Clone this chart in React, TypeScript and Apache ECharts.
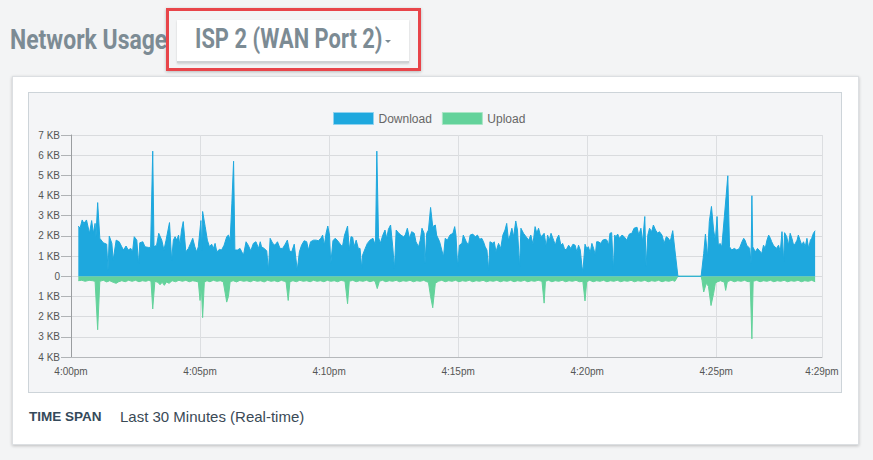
import React, { useEffect, useRef } from "react";
import * as echarts from "echarts";

// seconds after 4:00pm
const downloadTimes = [
  17, 21, 26, 30, 36, 43, 48, 52, 56, 58, 62, 67, 75, 83, 86, 89, 95, 98, 105, 112,
  118, 122, 128, 133, 139, 143, 147, 153, 157, 160, 167, 172, 180, 185, 190, 193, 199, 204, 211, 216,
  221, 229, 234, 238, 242, 246, 250, 253, 257, 261, 267, 273, 278, 283, 288, 292, 296, 302, 304, 306,
  312, 317, 322, 327, 331, 335, 339, 345, 350, 356, 362, 366, 370, 374, 378, 381, 387, 393, 397, 401,
  407, 412, 418, 424, 430, 436, 440, 443, 449, 455, 459, 463, 469, 474, 480, 486, 492, 498, 503, 508,
  513, 519, 526, 531, 536, 542, 548, 552, 557, 564, 570, 575, 581, 585, 589, 593, 597, 601, 604, 609,
  614, 619, 626, 631, 636, 640, 643, 647, 651, 655, 658, 663, 668, 672, 676, 678, 684, 689, 695, 702,
  705, 708, 711, 715, 719, 725, 730, 734, 738, 743, 748, 752, 756, 761, 767, 773, 777, 782, 787, 792,
  798, 802, 808, 812, 816, 821, 823, 827, 831, 836, 841, 847, 850, 857, 862, 866, 870, 875, 881, 888,
  892, 895, 899, 903, 909, 912, 919, 924, 928, 934, 940, 945, 950, 955, 959, 963, 967, 971, 974, 981,
  984, 988, 994, 999, 1004, 1009, 1013, 1017, 1021, 1025, 1029, 1034, 1038, 1043, 1046, 1052, 1058, 1064, 1069, 1074,
  1079, 1083, 1087, 1092, 1097, 1100, 1105, 1108, 1112, 1116, 1122, 1126, 1130, 1134, 1139, 1143, 1147, 1151, 1157, 1162,
  1167, 1172, 1176, 1180, 1184, 1188, 1190, 1195, 1199, 1203, 1207, 1211, 1215, 1219, 1222, 1226, 1232, 1236, 1242, 1246,
  1250, 1253, 1257, 1261, 1264, 1267, 1271, 1275, 1281, 1286, 1292, 1298, 1304, 1309, 1316, 1320, 1325, 1329, 1334, 1337,
  1341, 1345, 1350, 1354, 1359, 1364, 1368, 1374, 1379, 1384, 1389, 1393, 1399, 1404, 1411, 1465, 1471, 1475, 1480, 1484,
  1489, 1494, 1498, 1502, 1505, 1509, 1513, 1519, 1523, 1527, 1531, 1536, 1542, 1548, 1554, 1560, 1564, 1567, 1571, 1578,
  1581, 1583, 1585, 1591, 1596, 1601, 1606, 1610, 1614, 1618, 1622, 1626, 1629, 1633, 1640, 1645, 1649, 1653, 1657, 1659,
  1664, 1668, 1672, 1676, 1680, 1684, 1688, 1691, 1695, 1699, 1703, 1707, 1711, 1715, 1719, 1722, 1726, 1730,
];

// KB
const downloadValues = [
  2.49, 2.38, 2.79, 2.62, 2.79, 2.13, 2.76, 2.13, 2.62, 1.96, 3.65, 1.88, 1.66, 1.59, 0.3, 1.99, 1.63, 0.8, 1.79, 1.71,
  1.46, 1.3, 1.5, 1.3, 1.38, 1.21, 1.96, 1.79, 0.63, 1.66, 1.71, 1.46, 1.43, 1.43, 6.2, 1.46, 1.54, 2.13, 1.79, 1.3,
  1.79, 2.66, 0.8, 1.79, 1.96, 1.79, 2.04, 1.54, 2.29, 2.71, 1.21, 1.38, 1.63, 1.88, 1.46, 1.21, 1.46, 2.76, 1.3, 3.21,
  2.46, 1.79, 1.46, 1.59, 1.38, 1.63, 1.21, 1.33, 1.3, 1.54, 1.96, 2.04, 1.79, 3.62, 5.7, 1.3, 1.3, 1.38, 1.21, 1.05,
  1.71, 1.54, 1.26, 1.63, 1.71, 1.38, 1.71, 1.46, 1.38, 1.26, 0.3, 1.88, 1.63, 1.54, 1.71, 1.38, 1.38, 1.59, 1.79, 1.26,
  1.21, 1.59, 0.3, 1.21, 1.54, 1.76, 1.71, 1.3, 1.71, 1.79, 1.79, 1.76, 1.88, 2.04, 1.54, 2.13, 2.49, 2.04, 0.63, 1.76,
  1.88, 1.79, 1.59, 1.46, 2.04, 2.29, 2.49, 1.3, 1.96, 1.93, 1.46, 1.79, 1.38, 1.38, 0.38, 1.05, 1.38, 1.63, 1.79, 1.88,
  1.71, 1.63, 6.2, 1.93, 1.63, 2.04, 2.29, 1.88, 2.33, 2.54, 1.46, 0.38, 2.29, 2.16, 2.04, 1.96, 2.04, 2.38, 1.88, 2.21,
  2.13, 1.71, 1.46, 1.79, 2.38, 2.13, 0.63, 2.13, 2.29, 3.41, 2.46, 2.54, 2.04, 1.71, 1.3, 0.96, 1.88, 1.79, 2.04, 2.13,
  2.46, 2.04, 0.47, 1.54, 1.63, 2.04, 1.71, 1.54, 2.04, 2.09, 1.96, 2.04, 1.83, 1.88, 1.71, 1.46, 1.3, 0.3, 1.71, 1.63,
  1.71, 1.21, 1.63, 1.38, 2.04, 2.29, 2.62, 1.79, 2.04, 2.38, 1.96, 2.74, 2.29, 0.47, 2.38, 2.13, 1.96, 1.79, 2.04, 1.59,
  2.46, 2.13, 2.38, 1.96, 2.04, 2.13, 1.46, 2.04, 1.79, 2.13, 1.79, 1.54, 1.88, 2.04, 1.54, 1.63, 1.38, 1.3, 1.54, 1.38,
  1.59, 1.54, 1.21, 1.54, 1.3, 0.47, 0.22, 1.59, 1.38, 1.46, 1.16, 1.63, 1.38, 1.05, 1.71, 1.71, 1.63, 1.79, 1.83, 1.79,
  1.54, 2.13, 2.16, 0.3, 2.04, 1.96, 2.09, 1.88, 2.04, 1.96, 1.79, 2.09, 2.13, 2.38, 2.43, 2.04, 2.38, 1.71, 2.96, 0.47,
  2.04, 2.38, 2.21, 2.54, 2.29, 2.13, 2.21, 2.04, 1.63, 1.96, 1.88, 1.71, 2.26, 1.3, 0, 0, 1.13, 2.09, 0.96, 2.71,
  3.46, 2.29, 1.79, 2.96, 1.54, 1.63, 1.46, 2.96, 3.95, 4.98, 1.46, 1.3, 1.38, 1.3, 1.38, 1.71, 1.88, 1.79, 1.54, 1.38,
  0.63, 3.99, 1.46, 1.21, 1.38, 1.26, 1.13, 1.54, 1.38, 1.79, 2.04, 1.88, 1.71, 1.54, 1.38, 1.54, 1.21, 2.21, 0.71, 2.16,
  1.96, 1.54, 2.13, 1.88, 1.54, 1.63, 1.79, 2.04, 1.79, 1.54, 1.71, 1.46, 1.88, 1.38, 1.79, 1.88, 2.13, 2.26,
];

const uploadTimes = [
  17, 25, 33, 42, 50, 56, 62, 67, 75, 83, 90, 98, 105, 110, 118, 126, 134, 142, 150, 158,
  166, 174, 181, 186, 190, 195, 202, 207, 212, 217, 222, 228, 235, 243, 251, 259, 267, 275, 283, 290,
  296, 300, 303, 306, 310, 316, 323, 331, 339, 347, 354, 362, 366, 370, 377, 385, 393, 401, 409, 417,
  425, 433, 441, 449, 457, 465, 473, 481, 489, 496, 500, 505, 509, 516, 524, 532, 540, 548, 556, 564,
  572, 580, 588, 596, 604, 612, 620, 628, 637, 643, 647, 655, 663, 671, 679, 687, 695, 703, 707, 712,
  717, 724, 732, 740, 748, 756, 764, 772, 780, 788, 796, 804, 812, 820, 827, 831, 836, 841, 847, 854,
  862, 870, 878, 886, 894, 902, 910, 918, 926, 934, 942, 950, 958, 966, 974, 982, 990, 998, 1006, 1014,
  1022, 1030, 1038, 1046, 1054, 1062, 1070, 1078, 1086, 1095, 1100, 1103, 1110, 1118, 1126, 1134, 1142, 1150, 1158, 1166,
  1174, 1182, 1190, 1195, 1199, 1206, 1214, 1222, 1230, 1238, 1246, 1254, 1262, 1270, 1278, 1286, 1294, 1302, 1310, 1318,
  1326, 1334, 1342, 1350, 1358, 1366, 1374, 1382, 1390, 1398, 1404, 1411, 1465, 1467, 1471, 1477, 1482, 1488, 1494, 1498,
  1502, 1510, 1516, 1519, 1522, 1526, 1534, 1542, 1550, 1558, 1566, 1574, 1579, 1583, 1586, 1594, 1602, 1610, 1618, 1626,
  1634, 1642, 1650, 1658, 1666, 1674, 1682, 1690, 1698, 1706, 1714, 1722, 1730,
];

const uploadValues = [
  -0.22, -0.2, -0.25, -0.2, -0.22, -0.25, -2.65, -0.25, -0.2, -0.28, -0.22, -0.3, -0.35, -0.28, -0.22, -0.27, -0.2, -0.25, -0.2, -0.27,
  -0.22, -0.25, -0.2, -0.25, -1.62, -0.25, -0.3, -0.42, -0.3, -0.45, -0.28, -0.35, -0.22, -0.27, -0.2, -0.25, -0.2, -0.27, -0.22, -0.25,
  -0.28, -1.2, -0.5, -2.05, -0.3, -0.22, -0.27, -0.2, -0.25, -0.22, -0.27, -1.28, -1.0, -0.27, -0.22, -0.28, -0.2, -0.25, -0.22, -0.27,
  -0.2, -0.25, -0.22, -0.28, -0.2, -0.25, -0.22, -0.27, -0.2, -0.25, -0.28, -1.2, -0.27, -0.22, -0.27, -0.2, -0.25, -0.22, -0.27, -0.2,
  -0.25, -0.22, -0.27, -0.2, -0.25, -0.22, -0.27, -0.2, -0.25, -1.36, -0.25, -0.2, -0.27, -0.22, -0.25, -0.2, -0.27, -0.22, -0.25, -0.61,
  -0.25, -0.2, -0.27, -0.22, -0.25, -0.2, -0.27, -0.22, -0.25, -0.2, -0.27, -0.22, -0.25, -0.2, -0.27, -0.3, -1.0, -1.56, -0.35, -0.25,
  -0.2, -0.27, -0.22, -0.25, -0.2, -0.27, -0.22, -0.25, -0.2, -0.27, -0.22, -0.25, -0.2, -0.27, -0.22, -0.25, -0.2, -0.27, -0.22, -0.25,
  -0.2, -0.27, -0.22, -0.25, -0.2, -0.27, -0.22, -0.25, -0.2, -0.25, -1.33, -0.25, -0.2, -0.27, -0.22, -0.25, -0.2, -0.27, -0.22, -0.25,
  -0.2, -0.27, -0.25, -1.22, -0.27, -0.2, -0.27, -0.22, -0.25, -0.2, -0.27, -0.22, -0.25, -0.2, -0.27, -0.22, -0.25, -0.2, -0.27, -0.22,
  -0.25, -0.2, -0.27, -0.22, -0.25, -0.2, -0.27, -0.22, -0.25, -0.2, -0.25, 0, 0, -0.2, -0.78, -0.35, -0.5, -1.45, -0.85, -0.35,
  -0.28, -0.22, -0.27, -0.3, -0.7, -0.27, -0.2, -0.27, -0.22, -0.25, -0.2, -0.27, -0.25, -3.1, -0.25, -0.2, -0.27, -0.22, -0.25, -0.2,
  -0.27, -0.22, -0.25, -0.2, -0.27, -0.22, -0.25, -0.2, -0.27, -0.22, -0.25, -0.2, -0.27,
];

const seriesNames = ["Download", "Upload"];
const xTickValues = [0, 300, 600, 900, 1200, 1500, 1746];
const xTickLabels = ["4:00pm", "4:05pm", "4:10pm", "4:15pm", "4:20pm", "4:25pm", "4:29pm"];
const yTickValues = [-4, -3, -2, -1, 0, 1, 2, 3, 4, 5, 6, 7];
const yTickLabels = ["4 KB", "3 KB", "2 KB", "1 KB", "0", "1 KB", "2 KB", "3 KB", "4 KB", "5 KB", "6 KB", "7 KB"];

const BLUE = "#1ea8de";
const GREEN = "#63d29b";
const CHART_FONT = "'Liberation Sans', Arial, sans-serif";

function Chart() {
  const ref = useRef<HTMLDivElement>(null);
  useEffect(() => {
    if (!ref.current) return;
    const chart = echarts.init(ref.current, null, { renderer: "svg" });
    const dl = downloadTimes.map((t, i) => [t, downloadValues[i]]);
    const ul = uploadTimes.map((t, i) => [t, uploadValues[i]]);
    chart.setOption({
      animation: false,
      backgroundColor: "transparent",
      textStyle: { fontFamily: CHART_FONT },
      legend: {
        left: 299,
        top: 14,
        icon: "rect",
        itemWidth: 40,
        itemHeight: 12,
        itemGap: 10,
        textStyle: { fontSize: 12, color: "#666", fontFamily: CHART_FONT },
        data: [
          { name: seriesNames[0], itemStyle: { color: BLUE, borderColor: "#8fd2ef", borderWidth: 1 } },
          { name: seriesNames[1], itemStyle: { color: GREEN, borderColor: "#a9e6c6", borderWidth: 1 } },
        ],
      },
      grid: {
        left: 42,
        top: 42,
        right: 19,
        bottom: 35,
        containLabel: false,
        outerBoundsMode: "none",
      },
      xAxis: {
        type: "value",
        min: 0,
        max: 1746,
        interval: 300,
        axisLine: { show: true, onZero: false, lineStyle: { color: "#b5b8bb", width: 1 } },
        axisTick: { show: false },
        splitLine: { show: true, lineStyle: { color: "#dcdee1", width: 1 } },
        axisLabel: {
          color: "#555",
          fontSize: 10,
          margin: 9,
          showMaxLabel: true,
          fontFamily: CHART_FONT,
          formatter: (v: number) => {
            const i = xTickValues.indexOf(Math.round(v));
            return i >= 0 ? xTickLabels[i] : "";
          },
        },
      },
      yAxis: {
        type: "value",
        min: -4,
        max: 7,
        interval: 1,
        axisLine: { show: true, lineStyle: { color: "#9a9da0", width: 1 } },
        axisTick: { show: true, length: 10, lineStyle: { color: "#b0b3b6" } },
        splitLine: { show: true, lineStyle: { color: "#d9dbde", width: 1 } },
        axisLabel: {
          color: "#555",
          fontSize: 10,
          margin: 11,
          fontFamily: CHART_FONT,
          formatter: (v: number) => {
            const i = yTickValues.indexOf(Math.round(v));
            return i >= 0 ? yTickLabels[i] : "";
          },
        },
      },
      series: [
        {
          name: seriesNames[0],
          type: "line",
          data: dl,
          showSymbol: false,
          symbol: "none",
          lineStyle: { color: BLUE, width: 1 },
          itemStyle: { color: BLUE },
          areaStyle: { color: BLUE, opacity: 1 },
          z: 3,
        },
        {
          name: seriesNames[1],
          type: "line",
          data: ul,
          showSymbol: false,
          symbol: "none",
          lineStyle: { color: GREEN, width: 1 },
          itemStyle: { color: GREEN },
          areaStyle: { color: GREEN, opacity: 1 },
          z: 2,
        },
      ],
    });
    return () => chart.dispose();
  }, []);
  return <div ref={ref} style={{ width: 812, height: 299 }} />;
}

export default function App() {
  const headColor = "#7c8b94";
  return (
    <div
      style={{
        position: "absolute",
        left: 0,
        top: 0,
        width: 873,
        height: 460,
        background: "#f3f4f5",
        overflow: "hidden",
        fontFamily: "'Liberation Sans', Arial, sans-serif",
      }}
    >
      <div
        style={{
          position: "absolute",
          left: 10,
          top: 27,
          fontFamily: "Roboto, sans-serif",
          fontWeight: 700,
          fontSize: 27,
          lineHeight: "27px",
          color: headColor,
          whiteSpace: "nowrap",
          transform: "scaleX(0.85)",
          transformOrigin: "left top",
        }}
      >
        Network Usage
      </div>
      <div
        style={{
          position: "absolute",
          left: 166,
          top: 8,
          width: 255,
          height: 63,
          boxSizing: "border-box",
          border: "3px solid #e8454a",
          boxShadow: "0 1px 3px rgba(0,0,0,0.25)",
        }}
      />
      <div
        style={{
          position: "absolute",
          left: 177,
          top: 20,
          width: 232,
          height: 43,
          background: "#ffffff",
          borderBottom: "2px solid #cfd2d4",
          boxShadow: "0 1px 2px rgba(0,0,0,0.15)",
          boxSizing: "border-box",
        }}
      />
      <div
        style={{
          position: "absolute",
          left: 195,
          top: 26,
          fontFamily: "Roboto, sans-serif",
          fontWeight: 700,
          fontSize: 27,
          lineHeight: "27px",
          color: headColor,
          whiteSpace: "nowrap",
          transform: "scaleX(0.81)",
          transformOrigin: "left top",
        }}
      >
        ISP 2 (WAN Port 2)
      </div>
      <div
        style={{
          position: "absolute",
          left: 385,
          top: 40,
          width: 0,
          height: 0,
          borderLeft: "3px solid transparent",
          borderRight: "3px solid transparent",
          borderTop: "3px solid " + headColor,
        }}
      />
      <div
        style={{
          position: "absolute",
          left: 12,
          top: 76,
          width: 847,
          height: 369,
          background: "#ffffff",
          border: "1px solid #dcdfe2",
          boxShadow: "0 1px 3px rgba(0,0,0,0.22)",
          boxSizing: "border-box",
        }}
      />
      <div
        style={{
          position: "absolute",
          left: 28,
          top: 92,
          width: 814,
          height: 301,
          background: "#f4f5f7",
          border: "1px solid #cdd4d9",
          boxSizing: "border-box",
        }}
      >
        <Chart />
      </div>
      <div
        style={{
          position: "absolute",
          left: 29,
          top: 409,
          fontSize: 13.5,
          lineHeight: "16px",
          fontWeight: 700,
          color: "#34495a",
          whiteSpace: "nowrap",
        }}
      >
        TIME SPAN
      </div>
      <div
        style={{
          position: "absolute",
          left: 120,
          top: 408,
          fontSize: 15,
          lineHeight: "17px",
          color: "#3a4a56",
          whiteSpace: "nowrap",
        }}
      >
        Last 30 Minutes (Real-time)
      </div>
    </div>
  );
}
